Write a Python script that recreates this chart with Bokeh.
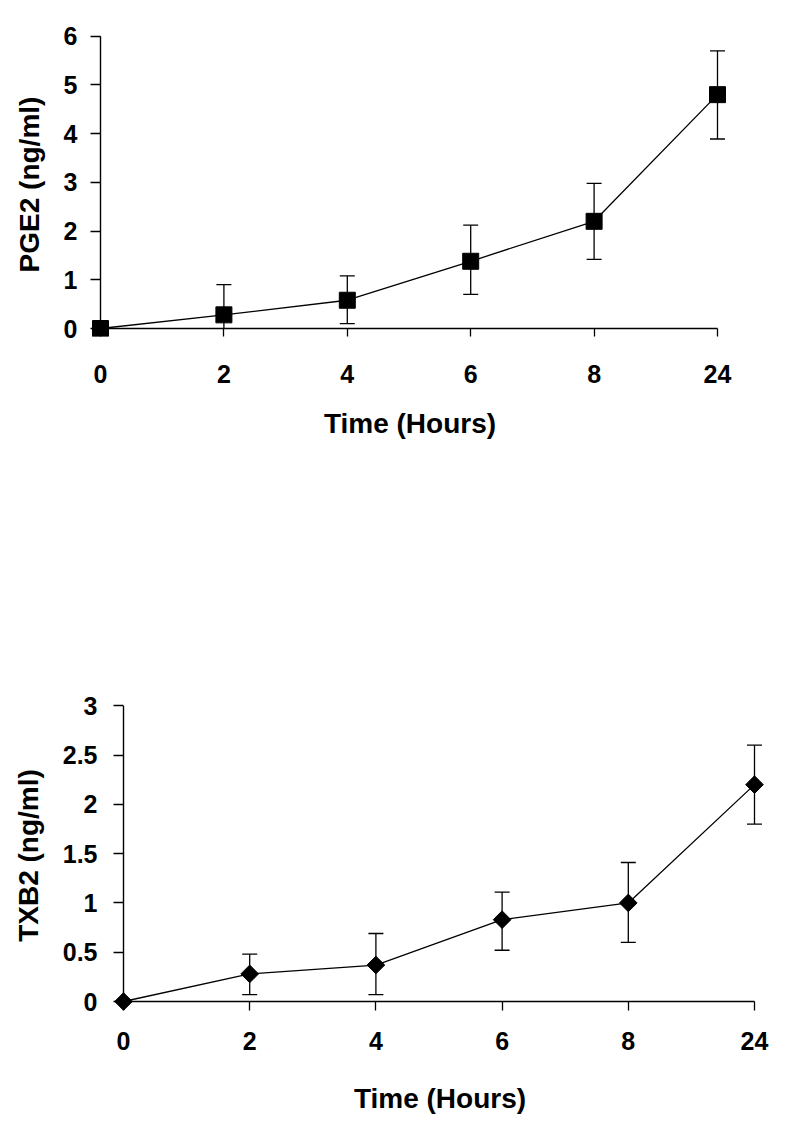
import numpy as np
from bokeh.plotting import figure
from bokeh.models import Range1d, FixedTicker, NumeralTickFormatter
from bokeh.embed import file_html
from bokeh.resources import INLINE

# ---- data ----
time_labels = ["0", "2", "4", "6", "8", "24"]

pge2_mean = [0.0, 0.28, 0.58, 1.38, 2.20, 4.80]
pge2_upper = [0.0, 0.90, 1.08, 2.12, 2.98, 5.70]
pge2_lower = [0.0, 0.0, 0.10, 0.70, 1.42, 3.89]

txb2_mean = [0.0, 0.28, 0.37, 0.83, 1.00, 2.20]
txb2_upper = [0.0, 0.48, 0.69, 1.11, 1.41, 2.60]
txb2_lower = [0.0, 0.07, 0.07, 0.52, 0.60, 1.80]

pge2_ticks = [0, 1, 2, 3, 4, 5, 6]
txb2_ticks = [0, 0.5, 1, 1.5, 2, 2.5, 3]

FONT = "Liberation Sans"


def make_fig(mean, upper, lower, yticks, ylabel, marker, msize, angle,
             frame_left, ppu_x, pad_left, pad_right, ppu_y, pad_bottom, frame_h,
             mb_top, mb_bottom,
             x_std, x_title_std, y_std, y_title_std):
    x = list(range(len(time_labels)))
    n = len(time_labels) - 1
    fw = int(round(pad_left + n * ppu_x + pad_right))
    x0 = -pad_left / ppu_x
    y0 = yticks[0] - pad_bottom / ppu_y
    p = figure(frame_width=fw, frame_height=frame_h,
               x_range=Range1d(x0, x0 + fw / ppu_x),
               y_range=Range1d(y0, y0 + frame_h / ppu_y),
               output_backend="svg", toolbar_location=None,
               min_border_left=frame_left, min_border_top=mb_top,
               min_border_bottom=mb_bottom, min_border_right=8)
    p.outline_line_color = None
    p.xgrid.visible = False
    p.ygrid.visible = False
    p.background_fill_color = "white"
    p.border_fill_color = "white"

    # axis lines through the origin (x = first category, y = first tick)
    p.segment(x0=[x[0], x[0]], y0=[yticks[0], yticks[0]],
              x1=[x[-1], x[0]], y1=[yticks[0], yticks[-1]],
              line_color="black", line_width=1.4)

    # error bars
    up_idx = [i for i in x if upper[i] > mean[i]]
    lo_idx = [i for i in x if lower[i] < mean[i]]
    p.segment(x0=[x[i] for i in up_idx], y0=[mean[i] for i in up_idx],
              x1=[x[i] for i in up_idx], y1=[upper[i] for i in up_idx],
              line_color="black", line_width=1.3)
    p.segment(x0=[x[i] for i in lo_idx], y0=[mean[i] for i in lo_idx],
              x1=[x[i] for i in lo_idx], y1=[lower[i] for i in lo_idx],
              line_color="black", line_width=1.3)
    p.scatter([x[i] for i in up_idx], [upper[i] for i in up_idx],
              marker="dash", size=15, line_color="black", line_width=1.3)
    cap_lo = [i for i in lo_idx if lower[i] > yticks[0]]
    p.scatter([x[i] for i in cap_lo], [lower[i] for i in cap_lo],
              marker="dash", size=15, line_color="black", line_width=1.3)

    p.line(x, mean, line_color="black", line_width=1.3)
    p.scatter(x, mean, marker=marker, size=msize, angle=angle,
              fill_color="black", line_color="black")

    # axes on the frame edges; ticks reach from the edge to the origin lines
    p.xaxis.ticker = FixedTicker(ticks=x)
    p.xaxis.major_label_overrides = {i: lab for i, lab in zip(x, time_labels)}
    p.yaxis.ticker = FixedTicker(ticks=yticks)
    p.yaxis.formatter = NumeralTickFormatter(format="0.[0]")
    p.xaxis.axis_label = "Time (Hours)"
    p.yaxis.axis_label = ylabel
    for ax in (p.xaxis[0], p.yaxis[0]):
        ax.axis_line_color = None
        ax.major_tick_line_color = "black"
        ax.major_tick_line_width = 1.3
        ax.major_tick_out = 0
        ax.minor_tick_line_color = None
        ax.major_label_text_font = FONT
        ax.major_label_text_font_style = "bold"
        ax.major_label_text_font_size = "25px"
        ax.major_label_text_color = "black"
        ax.axis_label_text_font = FONT
        ax.axis_label_text_font_style = "bold"
        ax.axis_label_text_font_size = "28px"
        ax.axis_label_text_color = "black"
    p.xaxis.major_tick_in = int(pad_bottom)
    p.yaxis.major_tick_in = int(pad_left)
    p.xaxis.major_label_standoff = x_std
    p.xaxis.axis_label_standoff = x_title_std
    p.yaxis.major_label_standoff = y_std
    p.yaxis.axis_label_standoff = y_title_std
    return p


# top: axis at x=100, 24h at 717 ; y 0 at 328, 6 at 35.7
p1 = make_fig(pge2_mean, pge2_upper, pge2_lower, pge2_ticks, "PGE2 (ng/ml)",
              "square", 16, 0,
              90, 123.4, 10, 12, 48.72, 8, 304,
              32, 130,
              28, 22, 13, 16)

# bottom: axis at x=123, 24h at 754 ; y 0 at 1000.7, 3 at 705
p2 = make_fig(txb2_mean, txb2_upper, txb2_lower, txb2_ticks, "TXB2 (ng/ml)",
              "square", 12.5, np.pi / 4,
              113, 126.2, 10, 12, 98.57, 9, 310,
              234, 100,
              21, 30, 16, 16)

open("out.html", "w").write(file_html([p1, p2], INLINE))
